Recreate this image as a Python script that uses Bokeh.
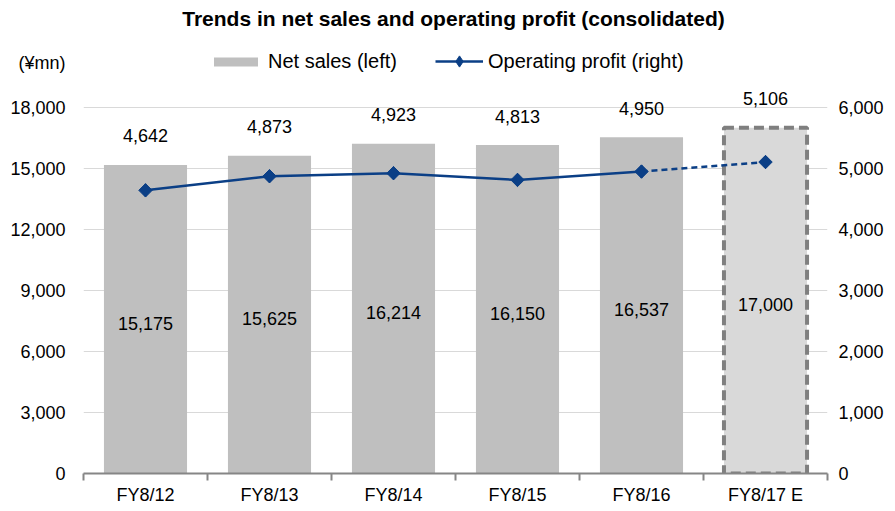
import math
from bokeh.plotting import figure
from bokeh.core.properties import value
from bokeh.models import (ColumnDataSource, Range1d, LinearAxis, FixedTicker,
                          NumeralTickFormatter, Label, LabelSet, Legend, LegendItem)
from bokeh.embed import file_html
from bokeh.resources import INLINE

categories = ["FY8/12", "FY8/13", "FY8/14", "FY8/15", "FY8/16", "FY8/17 E"]
net_sales = [15175, 15625, 16214, 16150, 16537, 17000]
op_profit = [4642, 4873, 4923, 4813, 4950, 5106]
n_actual = 5  # last one is an estimate
left_ticks = [0, 3000, 6000, 9000, 12000, 15000, 18000]
right_ticks = [0, 1000, 2000, 3000, 4000, 5000, 6000]
unit_label = "(¥mn)"

NUM_FONT = "Liberation Sans"
BAR = "#bfbfbf"
BAR_EST = "#d9d9d9"
NAVY = "#0b3f86"

# layout constants (pixels)
W, H = 887, 507
FRAME_H = 473          # frame spans from canvas top to x axis
PLOT_H = 366           # pixel height of the 0..18000 value span
UNIT_Y_PX = 411        # unit caption height above the x axis

xs = list(range(len(categories)))
src_all = ColumnDataSource(dict(
    x=xs, sales=net_sales, half=[v / 2 for v in net_sales], profit=op_profit,
    sales_txt=[f"{v:,}" for v in net_sales], profit_txt=[f"{v:,}" for v in op_profit]))
src_act = ColumnDataSource(dict(x=xs[:n_actual], sales=net_sales[:n_actual], profit=op_profit[:n_actual]))
src_est = ColumnDataSource(dict(x=xs[n_actual:], sales=net_sales[n_actual:]))
src_dash = ColumnDataSource(dict(x=xs[n_actual - 1:], profit=op_profit[n_actual - 1:]))

left_top = left_ticks[-1] * FRAME_H / PLOT_H
right_top = right_ticks[-1] * FRAME_H / PLOT_H
unit_tick = round(left_ticks[-1] * UNIT_Y_PX / PLOT_H)

p = figure(width=W, height=H, output_backend="svg", toolbar_location=None, title=None,
           x_range=Range1d(-0.5, len(categories) - 0.5), y_range=Range1d(0, left_top),
           min_border_left=83, min_border_right=60, min_border_top=0, min_border_bottom=34)
p.extra_y_ranges = {"op": Range1d(0, right_top)}
p.outline_line_color = None
p.background_fill_color = "white"
p.border_fill_color = "white"

# axes
p.yaxis.ticker = FixedTicker(ticks=left_ticks + [unit_tick])
p.yaxis.formatter = NumeralTickFormatter(format="0,0")
p.yaxis.major_label_overrides = {unit_tick: unit_label}
p.yaxis.axis_line_color = None
p.yaxis.major_tick_line_color = None
p.yaxis.major_tick_out = 0
p.yaxis.major_tick_in = 0
p.yaxis.minor_tick_line_color = None
p.yaxis.major_label_standoff = 18
p.yaxis.major_label_text_font = NUM_FONT
p.yaxis.major_label_text_font_size = "18px"
p.yaxis.major_label_text_color = "#000000"

ax_r = LinearAxis(y_range_name="op", ticker=FixedTicker(ticks=right_ticks),
                  formatter=NumeralTickFormatter(format="0,0"))
ax_r.axis_line_color = None
ax_r.major_tick_line_color = None
ax_r.major_tick_out = 0
ax_r.major_tick_in = 0
ax_r.minor_tick_line_color = None
ax_r.major_label_standoff = 11
ax_r.major_label_text_font = NUM_FONT
ax_r.major_label_text_font_size = "18px"
ax_r.major_label_text_color = "#000000"
p.add_layout(ax_r, "right")

p.xaxis.ticker = FixedTicker(ticks=xs, minor_ticks=[i - 0.5 for i in range(len(categories) + 1)])
p.xaxis.major_label_overrides = {i: c for i, c in enumerate(categories)}
p.xaxis.axis_line_color = "#868686"
p.xaxis.axis_line_width = 2
p.xaxis.major_tick_line_color = None
p.xaxis.major_tick_out = 0
p.xaxis.major_tick_in = 0
p.xaxis.minor_tick_line_color = "#868686"
p.xaxis.minor_tick_line_width = 2
p.xaxis.minor_tick_out = 7
p.xaxis.minor_tick_in = 0
p.xaxis.major_label_standoff = 4
p.xaxis.major_label_text_font = NUM_FONT
p.xaxis.major_label_text_font_size = "18px"
p.xaxis.major_label_text_color = "#000000"

p.xgrid.grid_line_color = None
p.ygrid.ticker = FixedTicker(ticks=left_ticks)
p.ygrid.grid_line_color = "#d9d9d9"
p.ygrid.grid_line_width = 1

# bars
bars = p.vbar(x="x", top="sales", width=0.67, source=src_act, fill_color=BAR, line_color=None)
p.vbar(x="x", top="sales", width=0.67, source=src_est, fill_color=BAR_EST,
       line_color="#7f7f7f", line_width=4, line_dash="10 5")

# line
line_solid = p.line(x="x", y="profit", source=src_act, y_range_name="op", line_color=NAVY, line_width=2.5)
p.line(x="x", y="profit", source=src_dash, y_range_name="op", line_color=NAVY, line_width=2.5,
       line_dash="6 4")
# diamond marker (also used for the legend key), covered by a rotated square of equal extent
pts_key = p.scatter(x="x", y="profit", source=src_all, y_range_name="op", marker="diamond",
                    size=13, fill_color=NAVY, line_color=NAVY)
p.scatter(x="x", y="profit", source=src_all, y_range_name="op", marker="square",
          angle=math.pi / 4, size=9.5, fill_color=NAVY, line_color=NAVY)

# data labels
p.add_layout(LabelSet(x="x", y="sales", text="profit_txt", source=src_all, y_offset=29,
                      text_align="center", text_baseline="middle", text_font=value(NUM_FONT),
                      text_font_size=value("18px"), text_color="#000000"))
p.add_layout(LabelSet(x="x", y="half", text="sales_txt", source=src_all, y_offset=-4,
                      text_align="center", text_baseline="middle", text_font=value(NUM_FONT),
                      text_font_size=value("18px"), text_color="#000000"))

# title
p.add_layout(Label(x=370, y=455, x_units="screen", y_units="screen",
                   text="Trends in net sales and operating profit (consolidated)",
                   text_align="center", text_baseline="middle", text_font=NUM_FONT,
                   text_font_style="bold", text_font_size="21px", text_color="#000000"))

legend_common = dict(orientation="horizontal", padding=0, margin=0, label_standoff=5,
                     border_line_color=None, background_fill_alpha=0,
                     label_text_font=NUM_FONT, label_text_font_size="20px",
                     label_text_color="#000000")
legend_bar = Legend(items=[LegendItem(label="Net sales (left)", renderers=[bars], index=0)],
                    location=(125, 400), glyph_width=55, glyph_height=11, **legend_common)
legend_line = Legend(items=[LegendItem(label="Operating profit (right)",
                                       renderers=[line_solid, pts_key], index=0)],
                     location=(352, 398), glyph_width=48, glyph_height=28, **legend_common)
p.add_layout(legend_bar, "center")
p.add_layout(legend_line, "center")

open("out.html", "w").write(file_html(p, INLINE))
